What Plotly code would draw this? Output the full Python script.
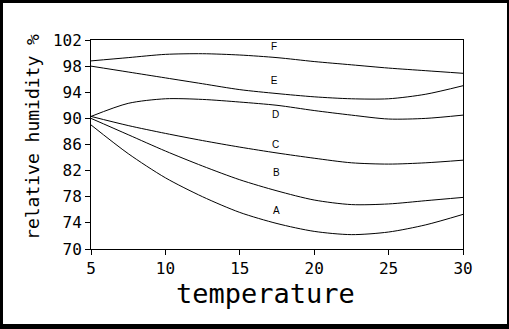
import plotly.graph_objects as go

temperature = [5, 7.5, 10, 12.5, 15, 17.5, 20, 22.5, 25, 27.5, 30]
curve_A = [89.0, 84.6, 80.9, 78.0, 75.6, 73.9, 72.7, 72.2, 72.6, 73.7, 75.3]
curve_B = [90.0, 87.5, 85.0, 82.7, 80.6, 78.9, 77.5, 76.8, 76.9, 77.4, 77.9]
curve_C = [90.3, 88.9, 87.7, 86.6, 85.6, 84.7, 83.9, 83.2, 83.0, 83.2, 83.6]
curve_D = [90.3, 92.3, 93.0, 92.9, 92.5, 92.0, 91.2, 90.5, 89.9, 90.0, 90.5]
curve_E = [98.0, 97.1, 96.2, 95.3, 94.4, 93.8, 93.3, 93.0, 93.0, 93.7, 95.0]
curve_F = [98.8, 99.3, 99.8, 99.9, 99.7, 99.3, 98.7, 98.2, 97.7, 97.3, 96.9]

curve_names = ["A", "B", "C", "D", "E", "F"]
curves = [curve_A, curve_B, curve_C, curve_D, curve_E, curve_F]
label_x = [17.45, 17.45, 17.4, 17.4, 17.3, 17.3]
label_y = [75.8, 81.5, 85.9, 90.4, 95.6, 100.9]

x_ticks = [5, 10, 15, 20, 25, 30]
y_ticks = [70, 74, 78, 82, 86, 90, 94, 98, 102]

fig = go.Figure()
for name, ys in zip(curve_names, curves):
    fig.add_trace(go.Scatter(
        x=temperature, y=ys, mode="lines", name=name,
        line=dict(color="black", width=1, shape="spline", smoothing=0.8),
        showlegend=False, hoverinfo="skip"))

fig.add_trace(go.Scatter(
    x=label_x, y=label_y, mode="text", text=curve_names,
    textfont=dict(family="Liberation Sans", size=10, color="black"),
    showlegend=False, hoverinfo="skip"))

mono = "DejaVu Sans Mono"
fig.update_layout(
    width=509, height=329,
    margin=dict(l=91, r=46, t=40, b=80),
    paper_bgcolor="black", plot_bgcolor="white",
    xaxis=dict(range=[5, 30], tickvals=x_ticks, showgrid=False, zeroline=False,
               showline=True, linecolor="black", linewidth=1, mirror=True,
               ticks="outside", ticklen=5, tickwidth=1, tickcolor="black",
               tickfont=dict(family=mono, size=16, color="black")),
    yaxis=dict(range=[70, 102], tickvals=y_ticks, showgrid=False, zeroline=False,
               showline=True, linecolor="black", linewidth=1, mirror=True,
               ticks="outside", ticklen=5, tickwidth=1, tickcolor="black",
               tickfont=dict(family=mono, size=16, color="black")),
    shapes=[dict(type="rect", xref="paper", yref="paper",
                 x0=-0.23656, x1=1.11828, y0=-0.35885, y1=1.17703,
                 fillcolor="white", line=dict(width=0), layer="below")],
    annotations=[
        dict(text="temperature", xref="paper", yref="paper", x=0.470, y=-0.215,
             xanchor="center", yanchor="middle", showarrow=False,
             font=dict(family=mono, size=27, color="black")),
        dict(text="relative humidity %", xref="paper", yref="paper", x=-0.156, y=0.536,
             xanchor="center", yanchor="middle", showarrow=False, textangle=-90,
             font=dict(family=mono, size=18, color="black")),
    ],
)

fig.write_html("out.html")
